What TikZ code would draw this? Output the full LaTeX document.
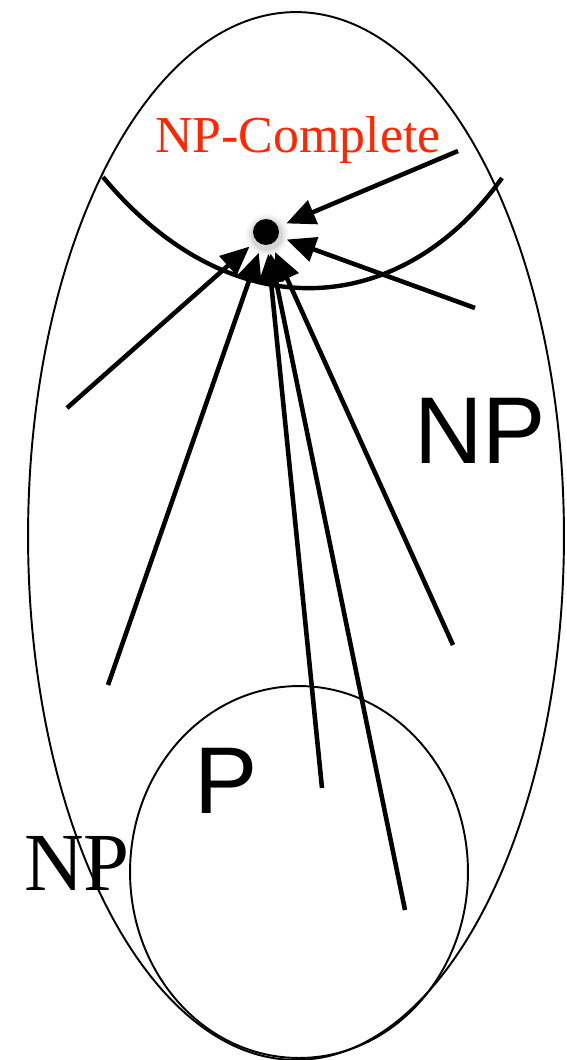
\documentclass[tikz,border=0pt]{standalone}
\usepackage{fontspec}
\setmainfont{Liberation Serif}
\newfontfamily\sansf{Liberation Sans}
\usetikzlibrary{arrows.meta,shapes.geometric}
\definecolor{npred}{RGB}{255,38,0}
\tikzset{
  region/.style={draw, ellipse, line width=1.1pt, inner sep=0pt},
  cut/.style={line width=2.5pt},
  line/.style={-{Triangle[length=0.58cm,width=0.5cm]}, line width=2.6pt},
  bigsans/.style={font=\sansf\fontsize{54}{60}\selectfont},
  bigserif/.style={font=\fontsize{47}{52}\selectfont}
}

\begin{document}
\begin{tikzpicture}[x=0.02cm, y=-0.02cm]
  \useasboundingbox (0,0) rectangle (567,1060);
  % classes
  \node[region, minimum width=10.72cm, minimum height=20.96cm] (np) at (296,536) {};
  \node[region, minimum width=6.76cm, minimum height=7.44cm] (p) at (299,872) {};
  \coordinate (cl) at (103,177);
  \coordinate (cr) at (502,178);
  \draw[cut] (cl) .. controls (230,330) and (400,320) .. (cr);
  % labels
  \node[anchor=base, text=npred, font=\fontsize{29.5}{33}\selectfont] (npc) at (298,153) {NP-Complete};
  \node[anchor=base, bigsans] (nplab) at (480,463) {NP};
  \node[anchor=base, bigsans] (plab) at (226,813) {P};
  \node[anchor=base, bigserif] (nplow) at (77,890) {NP};
  % the problem every NP problem reduces to
  \coordinate (c) at (266,232);
  \foreach \r/\o in {0.42/0.04,0.37/0.06,0.32/0.08}
    \fill[black, opacity=\o] (c) ++(1,3) circle [radius=\r cm];
  \node[circle, fill=black, minimum size=0.52cm, inner sep=0pt, outer sep=0.18cm] (hub) at (c) {};
  \coordinate (s1) at (458,151);
  \coordinate (s2) at (475,308);
  \coordinate (s3) at (67,408);
  \coordinate (s4) at (108,685);
  \coordinate (s5) at (322,788);
  \coordinate (s6) at (405,910);
  \coordinate (s7) at (453,645);
  \foreach \s in {s1,s2,s3,s4,s5,s6,s7}
    \draw[line] (\s) -- (hub);
\end{tikzpicture}
\end{document}
